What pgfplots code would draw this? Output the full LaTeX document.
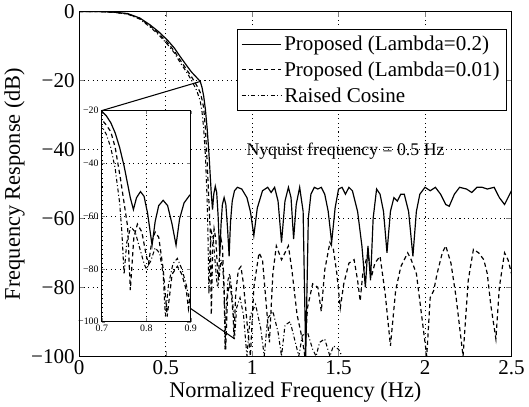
\documentclass[border=0pt]{standalone}
\usepackage{fontspec}
\setmainfont{Liberation Serif}
\usepackage{pgfplots}
\usepackage{pgfplotstable}
\pgfplotsset{compat=1.18}

% Proposed, Lambda = 0.2
\pgfplotstableread{
f s
0 0
0.1 0
0.2 -0.2
0.28 -0.6
0.35 -1.9
0.41 -3.9
0.46 -5.9
0.51 -8.3
0.55 -10.6
0.58 -12.8
0.62 -15.6
0.65 -17.6
0.68 -19.2
0.70 -20.3
0.71 -22
0.72 -24.6
0.73 -28.5
0.74 -34
0.75 -41
0.757 -47
0.764 -53
0.771 -57.5
0.778 -53
0.787 -50.7
0.795 -52.5
0.803 -59
0.813 -71
0.82 -62
0.828 -56
0.838 -54
0.848 -56
0.858 -63
0.867 -71
0.875 -61
0.885 -55
0.898 -52
0.915 -51
0.94 -51.5
0.97 -54
0.99 -58
1.01 -65
1.03 -57
1.06 -52
1.09 -51
1.11 -52.5
1.13 -51
1.15 -55
1.17 -67
1.19 -55
1.21 -51
1.225 -54
1.24 -66
1.255 -56
1.275 -51
1.295 -58
1.31 -100
1.325 -60
1.34 -53
1.36 -51
1.38 -51.5
1.40 -51
1.42 -53
1.44 -58
1.46 -67
1.48 -57
1.50 -51.5
1.52 -51
1.54 -53
1.56 -51
1.58 -52
1.61 -58
1.635 -68
1.655 -80
1.67 -68
1.685 -78
1.70 -60
1.72 -51.5
1.74 -53
1.76 -58
1.78 -70
1.80 -58
1.82 -54
1.84 -55
1.86 -53
1.88 -53
1.905 -58
1.93 -71
1.95 -58
1.97 -53
2.0 -51
2.03 -52
2.06 -51
2.09 -53
2.12 -56
2.14 -56.5
2.17 -53
2.20 -51
2.24 -51.5
2.27 -52.5
2.30 -51
2.33 -51
2.36 -51.5
2.40 -51
2.43 -54
2.46 -56
2.49 -53
2.5 -52
}\lamA

% Proposed, Lambda = 0.01
\pgfplotstableread{
f d
0 0
0.1 0
0.2 -0.2
0.28 -0.7
0.35 -2.0
0.41 -4.2
0.46 -6.4
0.51 -9
0.55 -11.5
0.58 -13.8
0.62 -16.8
0.65 -19
0.68 -21.5
0.70 -23.5
0.71 -25.5
0.72 -28
0.73 -34
0.742 -46
0.75 -55
0.758 -64
0.764 -88
0.772 -68
0.78 -63
0.79 -66
0.80 -75
0.805 -78
0.812 -70
0.82 -66
0.828 -68
0.838 -80
0.847 -98
0.858 -82
0.87 -79
0.88 -82
0.89 -88
0.895 -95
0.905 -82
0.92 -75
0.935 -74
0.95 -79
0.97 -90
0.99 -100
1.01 -80
1.04 -70
1.06 -72
1.08 -84
1.10 -96
1.12 -76
1.14 -68
1.17 -72
1.19 -70
1.21 -68
1.23 -75
1.26 -88
1.29 -95
1.305 -100
1.32 -86
1.35 -79
1.38 -80
1.40 -87
1.42 -75
1.45 -67
1.47 -69
1.49 -76
1.51 -86
1.53 -79
1.56 -73
1.59 -72
1.61 -78
1.625 -84
1.64 -76
1.67 -70
1.69 -77
1.71 -73
1.74 -71
1.77 -82
1.80 -97
1.83 -81
1.86 -74
1.90 -70
1.92 -72
1.95 -76
1.98 -88
2.01 -100
2.03 -83
2.05 -81
2.07 -76
2.10 -70
2.12 -68
2.15 -73
2.18 -83
2.22 -100
2.25 -78
2.28 -69
2.31 -70
2.34 -72
2.36 -76
2.38 -85
2.41 -95
2.43 -80
2.46 -70
2.48 -72
2.5 -76
}\lamB

% Raised cosine
\pgfplotstableread{
f r
0 0
0.1 0
0.2 -0.2
0.28 -0.8
0.35 -2.2
0.41 -4.5
0.46 -6.8
0.51 -9.5
0.55 -12
0.58 -14.5
0.62 -17.5
0.65 -20
0.68 -23
0.70 -26
0.71 -29
0.72 -34
0.73 -42
0.74 -55
0.745 -66
0.75 -82
0.756 -70
0.765 -64
0.775 -66
0.785 -72
0.795 -78
0.80 -80
0.81 -77
0.82 -72
0.83 -74
0.838 -82
0.843 -98
0.85 -86
0.86 -78
0.87 -76
0.88 -80
0.89 -86
0.90 -94
0.91 -86
0.93 -83
0.95 -88
0.97 -100
0.99 -88
1.02 -85
1.05 -92
1.07 -100
1.09 -89
1.12 -87
1.15 -93
1.17 -100
1.19 -91
1.22 -90
1.25 -96
1.27 -100
1.29 -94
1.32 -93
1.35 -98
1.37 -100
1.39 -96
1.42 -95
1.45 -100
1.47 -97
1.50 -98
1.52 -100
}\rcos

\tikzset{
  lamAstyle/.style={black, line width=0.9pt},
  lamBstyle/.style={black, line width=0.9pt, dash pattern=on 3.2pt off 2.4pt},
  rcosstyle/.style={black, line width=0.8pt, dash pattern=on 3pt off 1.8pt on 0.8pt off 1.8pt},
}

\begin{document}
\begin{tikzpicture}
\begin{axis}[
  name=main,
  width=328.5pt, height=262pt, scale only axis,
  xmin=0, xmax=2.5, ymin=-100, ymax=0,
  xtick={0,0.5,1,1.5,2,2.5}, xticklabels={0,0.5,1,1.5,2,2.5},
  ytick={-100,-80,-60,-40,-20,0}, yticklabels={−100,−80,−60,−40,−20,0},
  tick align=inside, major tick length=4pt,
  grid=major, grid style={black, line width=0.5pt, dash pattern=on 0.8pt off 2.6pt},
  axis line style={line width=0.8pt},
  tick label style={font=\fontsize{16}{18}\selectfont},
  label style={font=\fontsize{17}{20}\selectfont},
  xlabel={Normalized Frequency (Hz)}, ylabel={Frequency Response (dB)},
  xlabel style={yshift=2pt}, ylabel style={yshift=-2pt},
  legend style={at={(0.989,0.95)}, anchor=north east, draw=black, fill=white,
    line width=0.8pt, font=\fontsize{16}{18}\selectfont, inner sep=3pt, row sep=3pt},
  legend cell align=left,
  legend image code/.code={\draw[#1] (0pt,0pt) -- (30pt,0pt);},
]
  \addplot[lamAstyle] table[x=f, y=s] {\lamA};
  \addlegendentry{Proposed (Lambda=0.2)}
  \addplot[lamBstyle] table[x=f, y=d] {\lamB};
  \addlegendentry{Proposed (Lambda=0.01)}
  \addplot[rcosstyle] table[x=f, y=r] {\rcos};
  \addlegendentry{Raised Cosine}
  \node[anchor=base, font=\fontsize{13.5}{15}\selectfont] at (axis cs:1.54,-41.7) {Nyquist frequency = 0.5 Hz};
  \coordinate (inSW) at (axis cs:0.131,-90);
  \coordinate (m1) at (axis cs:0.7,-20.3);
  \coordinate (m2) at (axis cs:0.9,-95);
\end{axis}

\begin{axis}[
  at={(inSW)}, anchor=south west,
  width=67.5pt, height=160.5pt, scale only axis,
  xmin=0.7, xmax=0.9, ymin=-100, ymax=-20,
  xtick={0.7,0.8,0.9}, xticklabels={0.7,0.8,0.9},
  ytick={-100,-80,-60,-40,-20}, yticklabels={−100,−80,−60,−40,−20},
  tick align=inside, major tick length=2.5pt,
  grid=major, grid style={black, line width=0.5pt, dash pattern=on 0.8pt off 2.6pt},
  axis line style={line width=0.8pt},
  axis background/.style={fill=white},
  tick label style={font=\fontsize{7.5}{8}\selectfont},
  xticklabel style={yshift=1pt},
  yticklabel style={xshift=1pt},
]
  \addplot[lamAstyle] table[x=f, y=s] {\lamA};
  \addplot[lamBstyle] table[x=f, y=d] {\lamB};
  \addplot[rcosstyle] table[x=f, y=r] {\rcos};
  \coordinate (i1) at (axis cs:0.7,-20);
  \coordinate (i2) at (axis cs:0.9,-95);
\end{axis}

\draw[line width=0.8pt] (i1) -- (m1);
\draw[line width=0.8pt] (i2) -- (m2);
\end{tikzpicture}
\end{document}
